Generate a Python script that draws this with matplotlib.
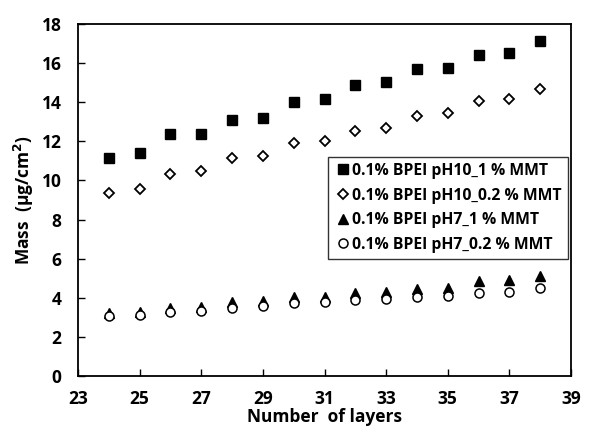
import matplotlib.pyplot as plt
import numpy as np

# --- Data ---
layers = [24, 25, 26, 27, 28, 29, 30, 31, 32, 33, 34, 35, 36, 37, 38]
ph10_1mmt = [11.15, 11.4, 12.35, 12.4, 13.1, 13.2, 14.0, 14.15, 14.9, 15.05, 15.7, 15.75, 16.4, 16.5, 17.15]
ph10_02mmt = [9.35, 9.55, 10.35, 10.5, 11.15, 11.25, 11.9, 12.0, 12.55, 12.7, 13.3, 13.45, 14.05, 14.15, 14.7]
ph7_1mmt = [3.2, 3.25, 3.5, 3.55, 3.8, 3.85, 4.05, 4.05, 4.25, 4.3, 4.45, 4.5, 4.85, 4.9, 5.1]
ph7_02mmt = [3.05, 3.1, 3.25, 3.3, 3.5, 3.6, 3.75, 3.8, 3.9, 3.95, 4.05, 4.1, 4.25, 4.3, 4.5]
labels = ['0.1% BPEI pH10_1 % MMT', '0.1% BPEI pH10_0.2 % MMT',
          '0.1% BPEI pH7_1 % MMT', '0.1% BPEI pH7_0.2 % MMT']
xticks = [23, 25, 27, 29, 31, 33, 35, 37, 39]
yticks = [0, 2, 4, 6, 8, 10, 12, 14, 16, 18]

plt.rcParams['font.family'] = ['Open Sans', 'DejaVu Sans']
plt.rcParams['font.weight'] = 'bold'

fig = plt.figure(figsize=(5.96, 4.38), dpi=100)
ax = fig.add_axes([78 / 596, 1 - 376 / 438, 493 / 596, 352 / 438])

ax.plot(layers, ph10_1mmt, 's', color='black', markersize=7.5, label=labels[0])
ax.plot(layers, ph10_02mmt, 'D', mfc='white', mec='black', mew=1.3, markersize=5, label=labels[1])
ax.plot(layers, ph7_1mmt, '^', color='black', markersize=7, label=labels[2])
ax.plot(layers, ph7_02mmt, 'o', mfc='white', mec='black', mew=1.1, markersize=6.5, label=labels[3])

ax.set_xlim(23, 39)
ax.set_ylim(0, 18)
ax.set_xticks(xticks, labels=[str(v) for v in xticks], fontweight='bold', fontsize=12.5)
ax.set_yticks(yticks, labels=[str(v) for v in yticks], fontweight='bold', fontsize=12.5)
ax.tick_params(axis='both', direction='in', length=5, width=1)
ax.tick_params(axis='x', pad=10)
ax.tick_params(axis='y', pad=12)
for s in ax.spines.values():
    s.set_linewidth(1.3)

ax.set_xlabel('Number  of layers', fontsize=12.5, fontweight='bold', labelpad=0)
ax.set_ylabel('Mass  (µg/cm$^2$)', fontsize=12.5, fontweight='bold', labelpad=4)

leg = ax.legend(loc='upper left', bbox_to_anchor=(0.508, 0.623), frameon=True, fancybox=False,
                edgecolor='black', fontsize=11.3, handletextpad=0.1, handlelength=1.0,
                borderpad=0.4, labelspacing=0.55, borderaxespad=0)
leg.get_frame().set_linewidth(1.0)
for t in leg.get_texts():
    t.set_fontweight('bold')

plt.savefig('out.png', dpi=100)
